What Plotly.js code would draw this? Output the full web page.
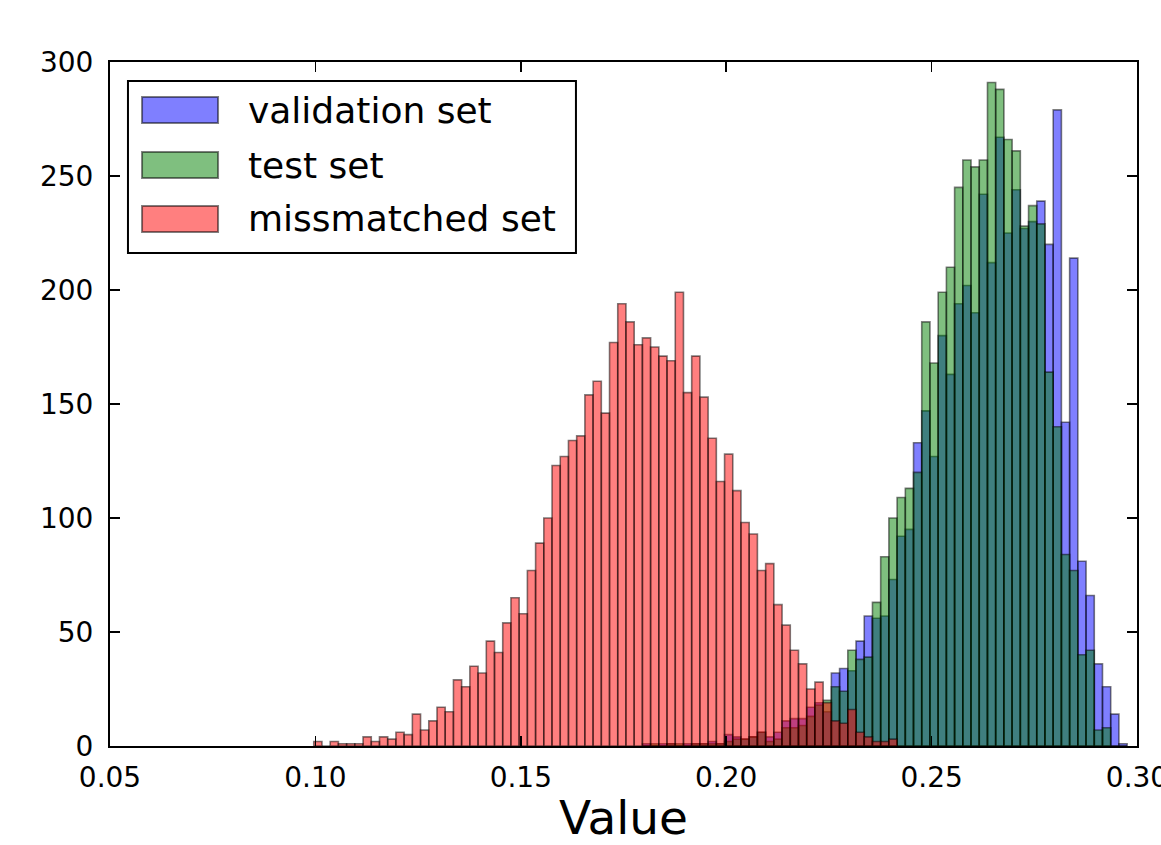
<!DOCTYPE html>
<html>
<head>
<meta charset="utf-8">
<script src="https://cdn.plot.ly/plotly-3.0.1.min.js"></script>
<style>
  html, body { margin: 0; padding: 0; background: #ffffff; }
  #chart { width: 1161px; height: 845px; }
</style>
</head>
<body>
<div id="chart"></div>
<script>
// ---- data (histogram counts) ----
var binStart = 0.0996;   // left edge of the first bin
var binWidth = 0.002;    // common bin width

var seriesNames = ["validation set", "test set", "missmatched set"];

// counts per bin; first index of each array = bin number given in *FirstBin
var validationFirstBin = 40;
var validationCounts = [1,0,1,1,0,1,1,1,2,1,
  5,4,3,4,6,4,6,11,12,12,
  17,19,15,32,34,33,46,57,56,57,
  73,92,95,133,147,127,180,163,194,202,
  190,242,212,267,225,244,227,230,239,220,
  279,142,214,81,66,36,26,14,1];

var testFirstBin = 40;
var testCounts = [0,1,0,1,1,0,1,1,1,1,
  2,3,3,4,6,2,3,8,8,9,
  13,18,20,26,24,42,38,39,63,83,
  100,109,113,120,186,168,199,210,245,257,
  254,257,291,288,266,261,228,237,229,164,
  140,84,77,40,42,7,8,0,0];

var missFirstBin = 0;
var missCounts = [2,0,2,1,1,1,4,2,4,3,
  6,5,14,7,11,17,15,29,26,35,
  32,46,41,54,65,58,77,89,100,123,
  127,134,136,154,160,146,177,194,186,176,
  179,175,171,169,199,155,171,153,135,116,
  128,112,98,93,77,80,62,53,42,36,
  25,28,19,11,10,16,6,4,2,2,3];

var xTickVals = [0.05, 0.10, 0.15, 0.20, 0.25, 0.30];
var yTickVals = [0, 50, 100, 150, 200, 250, 300];

// ---- styling ----
var faceColors = ["rgba(0,0,255,0.5)", "rgba(0,128,0,0.5)", "rgba(255,0,0,0.5)"];
var edgeColor = "rgba(0,0,0,0.5)";
var FONT = "DejaVu Sans, Liberation Sans, sans-serif";

function centers(firstBin, n) {
  var out = [];
  for (var i = 0; i < n; i++) out.push(binStart + (firstBin + i + 0.5) * binWidth);
  return out;
}

var allCounts = [validationCounts, testCounts, missCounts];
var firstBins = [validationFirstBin, testFirstBin, missFirstBin];

var traces = allCounts.map(function (c, i) {
  return {
    type: "bar",
    name: seriesNames[i],
    x: centers(firstBins[i], c.length),
    y: c,
    width: binWidth,
    marker: { color: faceColors[i], line: { color: edgeColor, width: 1.6 } },
    showlegend: false,
    hoverinfo: "x+y+name"
  };
});

// custom legend (matplotlib-like patches)
var shapes = [{
  type: "rect", xref: "paper", yref: "paper",
  x0: 0.0175, x1: 0.4537, y0: 0.7208, y1: 0.9722,
  line: { color: "#000", width: 2 }, fillcolor: "#fff", layer: "above"
}];
var annotations = [];
var rowTop = [0.9488, 0.8684, 0.7895];
var rowH = 0.038;
for (var i = 0; i < seriesNames.length; i++) {
  shapes.push({
    type: "rect", xref: "paper", yref: "paper",
    x0: 0.0312, x1: 0.1052, y0: rowTop[i] - rowH, y1: rowTop[i],
    line: { color: edgeColor, width: 2 }, fillcolor: faceColors[i], layer: "above"
  });
  annotations.push({
    xref: "paper", yref: "paper", x: 0.1325, y: rowTop[i] - rowH / 2,
    xanchor: "left", yanchor: "middle", showarrow: false,
    text: seriesNames[i], font: { family: FONT, size: 36, color: "#000" }
  });
}

var layout = {
  width: 1161, height: 845,
  margin: { l: 110, r: 24, t: 62, b: 99, pad: 0 },
  paper_bgcolor: "#fff", plot_bgcolor: "#fff",
  barmode: "overlay", bargap: 0,
  font: { family: FONT, color: "#000" },
  xaxis: {
    range: [0.05, 0.30], tickvals: xTickVals, tickformat: ".2f",
    ticks: "inside", ticklen: 10, tickwidth: 1.5, tickcolor: "#000",
    showline: true, linecolor: "#000", linewidth: 2, mirror: "ticks",
    showgrid: false, zeroline: false,
    tickfont: { family: FONT, size: 28, color: "#000" },
    ticklabelstandoff: 5,
    ticklabeloverflow: "allow",
    title: { text: "Value", font: { family: FONT, size: 47, color: "#000" }, standoff: 10 }
  },
  yaxis: {
    range: [0, 300], tickvals: yTickVals,
    ticks: "inside", ticklen: 10, tickwidth: 1.5, tickcolor: "#000",
    showline: true, linecolor: "#000", linewidth: 2, mirror: "ticks",
    showgrid: false, zeroline: false,
    tickfont: { family: FONT, size: 28, color: "#000" },
    ticklabelstandoff: 9
  },
  shapes: shapes,
  annotations: annotations
};

Plotly.newPlot("chart", traces, layout, { displayModeBar: false, staticPlot: true });
</script>
</body>
</html>
